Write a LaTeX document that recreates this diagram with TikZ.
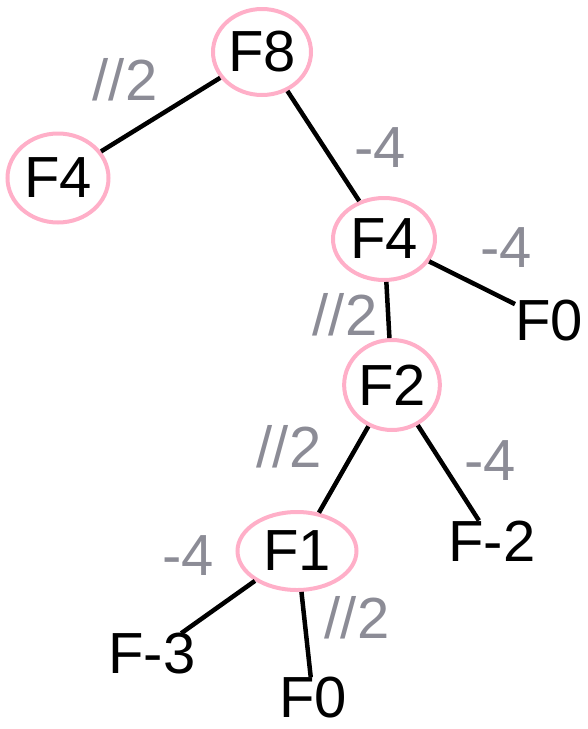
\documentclass[tikz,border=0pt]{standalone}
\usepackage{fontspec}
\setmainfont{Liberation Sans}
\usepackage{tikz}
\usetikzlibrary{shapes.geometric}
\definecolor{mypink}{RGB}{255,175,200}
\definecolor{mygray}{RGB}{140,140,150}
\tikzset{
  fnode/.style={inner sep=0pt, font=\fontsize{58}{60}\selectfont, text=black},
  circled/.style={fnode, ellipse, draw=mypink, line width=4pt,
    minimum width=98pt, minimum height=86pt},
  oplabel/.style={inner sep=0pt, font=\fontsize{58}{60}\selectfont, text=mygray},
  link/.style={line width=4.5pt, color=black}
}

\begin{document}
\begin{tikzpicture}[x=1pt, y=-1pt]
  \useasboundingbox (0,0) rectangle (587,729);
  % Tree nodes
  \node[circled] (f8) at (262,52) {F8};
  \node[circled, minimum width=101pt, minimum height=89pt] (f4a) at (58,178) {F4};
  \node[circled, minimum width=102pt, minimum height=82pt] (f4b) at (384,239) {F4};
  \node[fnode] (f0a) at (549,321) {F0};
  \node[circled, minimum width=95pt, minimum height=90pt] (f2) at (392,385) {F2};
  \node[fnode] (fm2) at (492,541) {F-2};
  \node[circled, minimum width=119pt, minimum height=78pt] (f1) at (297,551) {F1};
  \node[fnode] (fm3) at (152,654) {F-3};
  \node[fnode] (f0b) at (313,698) {F0};

  % Edge labels
  \node[oplabel] (l1) at (125,80) {//2};
  \node[oplabel] (l2) at (380,148) {-4};
  \node[oplabel] (l3) at (506,248) {-4};
  \node[oplabel] (l4) at (345,315) {//2};
  \node[oplabel] (l5) at (289,447) {//2};
  \node[oplabel] (l6) at (490,461) {-4};
  \node[oplabel] (l7) at (188,556) {-4};
  \node[oplabel] (l8) at (357,618) {//2};

  \draw[link] (f8) -- (f4a);
  \draw[link] (f8) -- (f4b);
  \draw[link] (f4b) -- (f0a);
  \draw[link] (f4b) -- (f2);
  \draw[link] (f2) -- (f1);
  \draw[link] (f2) -- (fm2);
  \draw[link] (f1) -- (fm3);
  \draw[link] (f1) -- (f0b);
\end{tikzpicture}
\end{document}
